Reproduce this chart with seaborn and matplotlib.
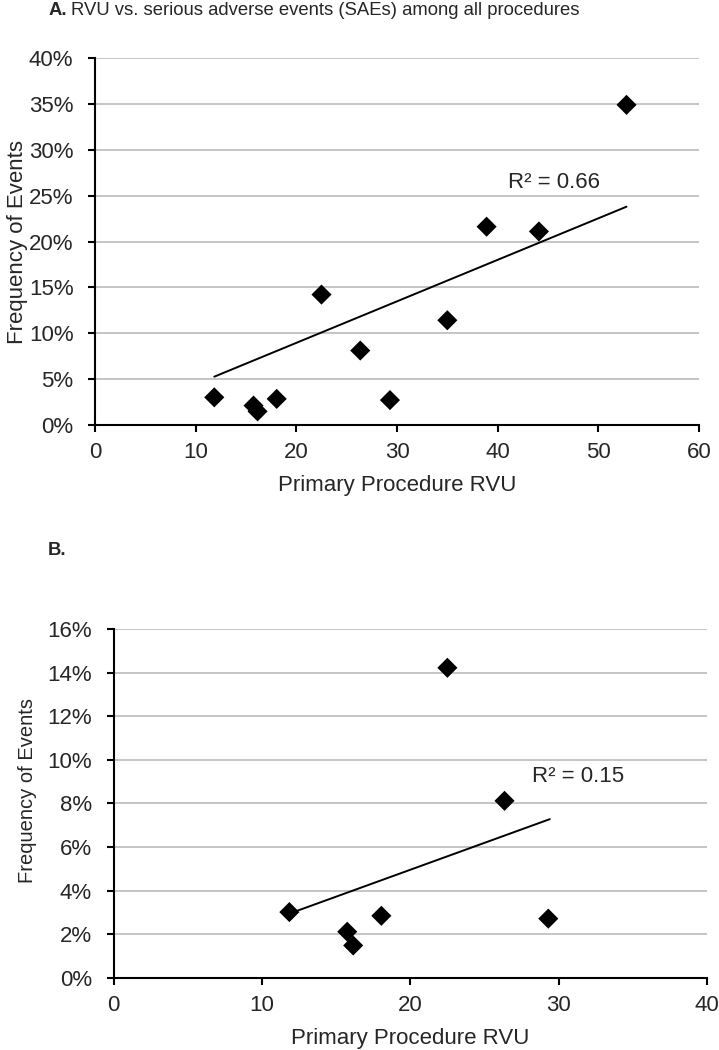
import numpy as np
import matplotlib
matplotlib.use("Agg")
import matplotlib.pyplot as plt
from matplotlib.ticker import PercentFormatter
import seaborn as sns

# primary procedure RVU and frequency of serious adverse events, one entry per procedure
rvu = [11.85, 15.75, 16.15, 18.05, 22.5, 26.35, 29.3, 35.0, 38.9, 44.1, 52.8]
sae_freq = [0.0302, 0.0212, 0.0149, 0.0285, 0.1422, 0.0812, 0.0272, 0.1142, 0.2162, 0.2110, 0.3490]

# trend line end points as drawn in the figure
trend_all_x = [11.85, 52.8]
trend_all_y = [0.0527, 0.238]
trend_low_x = [11.85, 29.4]
trend_low_y = [0.0295, 0.0728]

r2_all = "R\u00b2 = 0.66"
r2_low = "R\u00b2 = 0.15"
low_cutoff = 30

sns.set_style("white")
plt.rcParams['font.family'] = ['Liberation Sans', 'DejaVu Sans']

grid_col = "#c0c0c0"


def style_axes(ax, xmax, ymax, ystep):
    ax.set_xlim(0, xmax)
    ax.set_ylim(0, ymax)
    ax.set_xticks(np.arange(0, xmax + 1, 10))
    ax.set_yticks(np.arange(0, ymax + 1e-9, ystep))
    ax.yaxis.set_major_formatter(PercentFormatter(1.0, decimals=0))
    ax.yaxis.grid(True, color=grid_col, linewidth=1.3)
    ax.xaxis.grid(False)
    ax.set_axisbelow(True)
    for s in ["top", "right"]:
        ax.spines[s].set_visible(False)
    for s in ["left", "bottom"]:
        ax.spines[s].set_color("black")
        ax.spines[s].set_linewidth(1.5)
    ax.tick_params(axis="both", direction="out", length=5, width=1.5,
                   color="black", labelsize=16, bottom=True, left=True)
    ax.tick_params(axis="y", pad=10.5)
    ax.tick_params(axis="x", pad=7)
    ax.set_xlabel("Primary Procedure RVU", fontsize=16, labelpad=9)


def draw(ax, x, y, tx, ty):
    sns.lineplot(x=tx, y=ty, ax=ax, color="black", linewidth=1.4)
    sns.scatterplot(x=x, y=y, ax=ax, marker="D", s=105, color="black",
                    edgecolor="none", zorder=3)


fig = plt.figure(figsize=(7.19, 10.5), dpi=100)

# panel A: all procedures
axA = fig.add_axes([0.1321, 0.5952, 0.8401, 0.3495])
draw(axA, np.array(rvu), np.array(sae_freq), trend_all_x, trend_all_y)
style_axes(axA, 60, 0.40, 0.05)
axA.set_ylabel("Frequency of Events", fontsize=16)
axA.yaxis.set_label_coords(-0.111, 0.5)
axA.text(41.0, 0.264, r2_all, fontsize=16, va="center", ha="left")
fig.text(0.067, 0.990, "A.", fontsize=13.3, fontweight="bold", va="center", ha="left")
fig.text(0.099, 0.990, "RVU vs. serious adverse events (SAEs) among all procedures",
         fontsize=13.3, va="center", ha="left")

# panel B: procedures below 30 RVU
low_x = np.array([v for v in rvu if v < low_cutoff])
low_y = np.array([f for v, f in zip(rvu, sae_freq) if v < low_cutoff])
axB = fig.add_axes([0.1579, 0.0686, 0.8255, 0.3324])
draw(axB, low_x, low_y, trend_low_x, trend_low_y)
style_axes(axB, 40, 0.16, 0.02)
axB.set_ylabel("Frequency of Events", fontsize=14.5)
axB.yaxis.set_label_coords(-0.129, 0.536)
axB.text(28.2, 0.0925, r2_low, fontsize=16, va="center", ha="left")
fig.text(0.067, 0.476, "B.", fontsize=13.3, fontweight="bold", va="center", ha="left")

fig.savefig("out.png", dpi=100)
